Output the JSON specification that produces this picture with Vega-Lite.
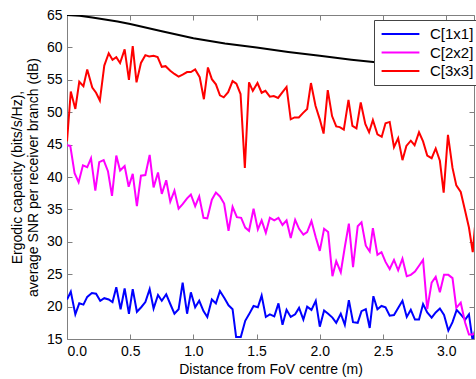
{
  "$schema": "https://vega.github.io/schema/vega-lite/v6.json",
  "width": 407,
  "height": 324,
  "autosize": {"type": "none"},
  "padding": {"left": 67, "top": 15, "right": 2, "bottom": 40},
  "background": "white",
  "config": {
    "font": "Liberation Sans",
    "view": {"stroke": null},
    "axis": {
      "domainColor": "#808080",
      "tickColor": "#808080",
      "labelColor": "black",
      "titleColor": "black",
      "labelFont": "Liberation Sans",
      "titleFont": "Liberation Sans",
      "labelFontSize": 14,
      "titleFontSize": 14,
      "titleFontWeight": "normal",
      "grid": false,
      "tickSize": -5
    }
  },
  "datasets": {
    "snr": [
      {"d": 0, "v": 65.0}, {"d": 0.1, "v": 64.9}, {"d": 0.2, "v": 64.6}, {"d": 0.3, "v": 64.3},
      {"d": 0.4, "v": 64.0}, {"d": 0.5, "v": 63.6}, {"d": 0.75, "v": 62.5}, {"d": 1.0, "v": 61.4},
      {"d": 1.25, "v": 60.6}, {"d": 1.5, "v": 60.0}, {"d": 1.75, "v": 59.3}, {"d": 2.0, "v": 58.7},
      {"d": 2.25, "v": 58.1}, {"d": 2.5, "v": 57.6}, {"d": 2.75, "v": 57.1}, {"d": 3.0, "v": 56.6},
      {"d": 3.22, "v": 56.2}
    ],
    "cap": [
      {"d": 0, "c": 21.1, "s": "C[1x1]"}, {"d": 0.03, "c": 22.3, "s": "C[1x1]"}, {"d": 0.066, "c": 18.8, "s": "C[1x1]"},
      {"d": 0.097, "c": 20.5, "s": "C[1x1]"}, {"d": 0.13, "c": 20.3, "s": "C[1x1]"}, {"d": 0.16, "c": 21.5, "s": "C[1x1]"},
      {"d": 0.197, "c": 22.1, "s": "C[1x1]"}, {"d": 0.23, "c": 22.0, "s": "C[1x1]"}, {"d": 0.263, "c": 20.9, "s": "C[1x1]"},
      {"d": 0.295, "c": 21.3, "s": "C[1x1]"}, {"d": 0.33, "c": 21.1, "s": "C[1x1]"}, {"d": 0.36, "c": 20.7, "s": "C[1x1]"},
      {"d": 0.39, "c": 23.0, "s": "C[1x1]"}, {"d": 0.424, "c": 19.6, "s": "C[1x1]"}, {"d": 0.456, "c": 22.8, "s": "C[1x1]"},
      {"d": 0.49, "c": 18.9, "s": "C[1x1]"}, {"d": 0.52, "c": 22.7, "s": "C[1x1]"}, {"d": 0.553, "c": 19.2, "s": "C[1x1]"},
      {"d": 0.587, "c": 19.9, "s": "C[1x1]"}, {"d": 0.62, "c": 20.7, "s": "C[1x1]"}, {"d": 0.654, "c": 22.7, "s": "C[1x1]"},
      {"d": 0.685, "c": 19.7, "s": "C[1x1]"}, {"d": 0.72, "c": 21.8, "s": "C[1x1]"}, {"d": 0.75, "c": 20.9, "s": "C[1x1]"},
      {"d": 0.785, "c": 21.9, "s": "C[1x1]"}, {"d": 0.817, "c": 20.4, "s": "C[1x1]"}, {"d": 0.85, "c": 18.9, "s": "C[1x1]"},
      {"d": 0.883, "c": 19.6, "s": "C[1x1]"}, {"d": 0.915, "c": 23.7, "s": "C[1x1]"}, {"d": 0.95, "c": 18.9, "s": "C[1x1]"},
      {"d": 0.98, "c": 22.2, "s": "C[1x1]"}, {"d": 1.014, "c": 19.9, "s": "C[1x1]"}, {"d": 1.046, "c": 20.9, "s": "C[1x1]"},
      {"d": 1.08, "c": 19.3, "s": "C[1x1]"}, {"d": 1.11, "c": 18.4, "s": "C[1x1]"}, {"d": 1.146, "c": 21.1, "s": "C[1x1]"},
      {"d": 1.178, "c": 20.5, "s": "C[1x1]"}, {"d": 1.21, "c": 22.4, "s": "C[1x1]"}, {"d": 1.246, "c": 21.3, "s": "C[1x1]"},
      {"d": 1.278, "c": 20.2, "s": "C[1x1]"}, {"d": 1.31, "c": 19.6, "s": "C[1x1]"}, {"d": 1.338, "c": 15.3, "s": "C[1x1]"},
      {"d": 1.375, "c": 15.3, "s": "C[1x1]"}, {"d": 1.41, "c": 17.8, "s": "C[1x1]"}, {"d": 1.44, "c": 18.8, "s": "C[1x1]"},
      {"d": 1.476, "c": 20.1, "s": "C[1x1]"}, {"d": 1.51, "c": 19.9, "s": "C[1x1]"}, {"d": 1.54, "c": 21.7, "s": "C[1x1]"},
      {"d": 1.573, "c": 18.4, "s": "C[1x1]"}, {"d": 1.605, "c": 18.8, "s": "C[1x1]"}, {"d": 1.64, "c": 18.5, "s": "C[1x1]"},
      {"d": 1.673, "c": 20.5, "s": "C[1x1]"}, {"d": 1.705, "c": 17.2, "s": "C[1x1]"}, {"d": 1.737, "c": 19.5, "s": "C[1x1]"},
      {"d": 1.77, "c": 18.4, "s": "C[1x1]"}, {"d": 1.805, "c": 18.8, "s": "C[1x1]"}, {"d": 1.836, "c": 19.8, "s": "C[1x1]"},
      {"d": 1.87, "c": 18.0, "s": "C[1x1]"}, {"d": 1.9, "c": 20.0, "s": "C[1x1]"}, {"d": 1.934, "c": 19.5, "s": "C[1x1]"},
      {"d": 1.968, "c": 20.9, "s": "C[1x1]"}, {"d": 2.0, "c": 16.9, "s": "C[1x1]"}, {"d": 2.034, "c": 19.4, "s": "C[1x1]"},
      {"d": 2.066, "c": 18.9, "s": "C[1x1]"}, {"d": 2.1, "c": 18.3, "s": "C[1x1]"}, {"d": 2.13, "c": 17.5, "s": "C[1x1]"},
      {"d": 2.166, "c": 18.9, "s": "C[1x1]"}, {"d": 2.198, "c": 17.2, "s": "C[1x1]"}, {"d": 2.23, "c": 21.0, "s": "C[1x1]"},
      {"d": 2.263, "c": 17.6, "s": "C[1x1]"}, {"d": 2.3, "c": 17.5, "s": "C[1x1]"}, {"d": 2.33, "c": 19.3, "s": "C[1x1]"},
      {"d": 2.364, "c": 19.6, "s": "C[1x1]"}, {"d": 2.395, "c": 16.7, "s": "C[1x1]"}, {"d": 2.424, "c": 21.6, "s": "C[1x1]"},
      {"d": 2.456, "c": 19.6, "s": "C[1x1]"}, {"d": 2.488, "c": 20.1, "s": "C[1x1]"}, {"d": 2.52, "c": 19.9, "s": "C[1x1]"},
      {"d": 2.553, "c": 18.6, "s": "C[1x1]"}, {"d": 2.587, "c": 18.7, "s": "C[1x1]"}, {"d": 2.62, "c": 19.8, "s": "C[1x1]"},
      {"d": 2.654, "c": 20.9, "s": "C[1x1]"}, {"d": 2.688, "c": 18.4, "s": "C[1x1]"}, {"d": 2.72, "c": 19.5, "s": "C[1x1]"},
      {"d": 2.753, "c": 18.0, "s": "C[1x1]"}, {"d": 2.785, "c": 18.0, "s": "C[1x1]"}, {"d": 2.817, "c": 20.4, "s": "C[1x1]"},
      {"d": 2.85, "c": 19.1, "s": "C[1x1]"}, {"d": 2.885, "c": 18.3, "s": "C[1x1]"}, {"d": 2.917, "c": 19.1, "s": "C[1x1]"},
      {"d": 2.95, "c": 19.7, "s": "C[1x1]"}, {"d": 2.983, "c": 18.7, "s": "C[1x1]"}, {"d": 3.017, "c": 16.3, "s": "C[1x1]"},
      {"d": 3.05, "c": 17.6, "s": "C[1x1]"}, {"d": 3.083, "c": 19.5, "s": "C[1x1]"}, {"d": 3.115, "c": 18.8, "s": "C[1x1]"},
      {"d": 3.15, "c": 18.0, "s": "C[1x1]"}, {"d": 3.18, "c": 18.8, "s": "C[1x1]"}, {"d": 3.21, "c": 14.6, "s": "C[1x1]"},
      {"d": 3.235, "c": 17.0, "s": "C[1x1]"},

      {"d": 0, "c": 44.9, "s": "C[2x2]"}, {"d": 0.026, "c": 44.8, "s": "C[2x2]"}, {"d": 0.06, "c": 40.6, "s": "C[2x2]"},
      {"d": 0.092, "c": 39.2, "s": "C[2x2]"}, {"d": 0.126, "c": 41.8, "s": "C[2x2]"}, {"d": 0.16, "c": 41.5, "s": "C[2x2]"},
      {"d": 0.19, "c": 42.9, "s": "C[2x2]"}, {"d": 0.224, "c": 37.9, "s": "C[2x2]"}, {"d": 0.255, "c": 42.3, "s": "C[2x2]"},
      {"d": 0.29, "c": 42.6, "s": "C[2x2]"}, {"d": 0.324, "c": 40.9, "s": "C[2x2]"}, {"d": 0.356, "c": 37.1, "s": "C[2x2]"},
      {"d": 0.39, "c": 43.3, "s": "C[2x2]"}, {"d": 0.42, "c": 41.0, "s": "C[2x2]"}, {"d": 0.456, "c": 41.7, "s": "C[2x2]"},
      {"d": 0.488, "c": 38.5, "s": "C[2x2]"}, {"d": 0.52, "c": 40.5, "s": "C[2x2]"}, {"d": 0.553, "c": 35.5, "s": "C[2x2]"},
      {"d": 0.585, "c": 40.2, "s": "C[2x2]"}, {"d": 0.62, "c": 40.3, "s": "C[2x2]"}, {"d": 0.654, "c": 43.4, "s": "C[2x2]"},
      {"d": 0.685, "c": 38.4, "s": "C[2x2]"}, {"d": 0.72, "c": 40.7, "s": "C[2x2]"}, {"d": 0.75, "c": 37.4, "s": "C[2x2]"},
      {"d": 0.785, "c": 39.5, "s": "C[2x2]"}, {"d": 0.817, "c": 36.2, "s": "C[2x2]"}, {"d": 0.85, "c": 37.9, "s": "C[2x2]"},
      {"d": 0.883, "c": 35.1, "s": "C[2x2]"}, {"d": 0.915, "c": 35.8, "s": "C[2x2]"}, {"d": 0.95, "c": 36.7, "s": "C[2x2]"},
      {"d": 0.98, "c": 37.3, "s": "C[2x2]"}, {"d": 1.014, "c": 35.5, "s": "C[2x2]"}, {"d": 1.046, "c": 37.0, "s": "C[2x2]"},
      {"d": 1.08, "c": 33.7, "s": "C[2x2]"}, {"d": 1.11, "c": 33.6, "s": "C[2x2]"}, {"d": 1.146, "c": 36.5, "s": "C[2x2]"},
      {"d": 1.178, "c": 37.6, "s": "C[2x2]"}, {"d": 1.21, "c": 37.0, "s": "C[2x2]"}, {"d": 1.243, "c": 35.9, "s": "C[2x2]"},
      {"d": 1.278, "c": 31.7, "s": "C[2x2]"}, {"d": 1.31, "c": 35.4, "s": "C[2x2]"}, {"d": 1.344, "c": 33.8, "s": "C[2x2]"},
      {"d": 1.378, "c": 33.7, "s": "C[2x2]"}, {"d": 1.41, "c": 32.2, "s": "C[2x2]"}, {"d": 1.44, "c": 31.7, "s": "C[2x2]"},
      {"d": 1.476, "c": 35.1, "s": "C[2x2]"}, {"d": 1.51, "c": 31.9, "s": "C[2x2]"}, {"d": 1.54, "c": 33.3, "s": "C[2x2]"},
      {"d": 1.573, "c": 31.4, "s": "C[2x2]"}, {"d": 1.605, "c": 33.7, "s": "C[2x2]"}, {"d": 1.64, "c": 33.3, "s": "C[2x2]"},
      {"d": 1.673, "c": 33.7, "s": "C[2x2]"}, {"d": 1.705, "c": 32.6, "s": "C[2x2]"}, {"d": 1.737, "c": 33.3, "s": "C[2x2]"},
      {"d": 1.77, "c": 30.6, "s": "C[2x2]"}, {"d": 1.805, "c": 33.4, "s": "C[2x2]"}, {"d": 1.836, "c": 32.0, "s": "C[2x2]"},
      {"d": 1.87, "c": 31.1, "s": "C[2x2]"}, {"d": 1.9, "c": 31.5, "s": "C[2x2]"}, {"d": 1.934, "c": 33.2, "s": "C[2x2]"},
      {"d": 1.968, "c": 30.7, "s": "C[2x2]"}, {"d": 2.0, "c": 28.6, "s": "C[2x2]"}, {"d": 2.034, "c": 32.0, "s": "C[2x2]"},
      {"d": 2.066, "c": 31.5, "s": "C[2x2]"}, {"d": 2.1, "c": 24.7, "s": "C[2x2]"}, {"d": 2.13, "c": 27.0, "s": "C[2x2]"},
      {"d": 2.166, "c": 25.3, "s": "C[2x2]"}, {"d": 2.198, "c": 29.2, "s": "C[2x2]"}, {"d": 2.23, "c": 32.8, "s": "C[2x2]"},
      {"d": 2.263, "c": 26.1, "s": "C[2x2]"}, {"d": 2.3, "c": 32.4, "s": "C[2x2]"}, {"d": 2.33, "c": 33.0, "s": "C[2x2]"},
      {"d": 2.364, "c": 29.4, "s": "C[2x2]"}, {"d": 2.395, "c": 28.5, "s": "C[2x2]"}, {"d": 2.42, "c": 32.1, "s": "C[2x2]"},
      {"d": 2.456, "c": 28.0, "s": "C[2x2]"}, {"d": 2.488, "c": 28.4, "s": "C[2x2]"}, {"d": 2.52, "c": 26.9, "s": "C[2x2]"},
      {"d": 2.553, "c": 25.8, "s": "C[2x2]"}, {"d": 2.587, "c": 27.2, "s": "C[2x2]"}, {"d": 2.62, "c": 25.6, "s": "C[2x2]"},
      {"d": 2.654, "c": 27.4, "s": "C[2x2]"}, {"d": 2.688, "c": 24.7, "s": "C[2x2]"}, {"d": 2.72, "c": 24.9, "s": "C[2x2]"},
      {"d": 2.753, "c": 25.4, "s": "C[2x2]"}, {"d": 2.785, "c": 26.3, "s": "C[2x2]"}, {"d": 2.817, "c": 27.2, "s": "C[2x2]"},
      {"d": 2.85, "c": 19.6, "s": "C[2x2]"}, {"d": 2.885, "c": 23.7, "s": "C[2x2]"}, {"d": 2.917, "c": 24.6, "s": "C[2x2]"},
      {"d": 2.95, "c": 22.2, "s": "C[2x2]"}, {"d": 2.983, "c": 24.9, "s": "C[2x2]"}, {"d": 3.017, "c": 24.9, "s": "C[2x2]"},
      {"d": 3.05, "c": 24.4, "s": "C[2x2]"}, {"d": 3.08, "c": 19.8, "s": "C[2x2]"}, {"d": 3.115, "c": 20.6, "s": "C[2x2]"},
      {"d": 3.15, "c": 17.5, "s": "C[2x2]"}, {"d": 3.18, "c": 15.7, "s": "C[2x2]"}, {"d": 3.21, "c": 15.7, "s": "C[2x2]"},
      {"d": 3.235, "c": 16.0, "s": "C[2x2]"},

      {"d": 0, "c": 45.5, "s": "C[3x3]"}, {"d": 0.03, "c": 53.2, "s": "C[3x3]"}, {"d": 0.066, "c": 50.5, "s": "C[3x3]"},
      {"d": 0.097, "c": 54.7, "s": "C[3x3]"}, {"d": 0.13, "c": 54.0, "s": "C[3x3]"}, {"d": 0.16, "c": 56.6, "s": "C[3x3]"},
      {"d": 0.2, "c": 53.8, "s": "C[3x3]"}, {"d": 0.23, "c": 53.0, "s": "C[3x3]"}, {"d": 0.26, "c": 51.8, "s": "C[3x3]"},
      {"d": 0.295, "c": 57.2, "s": "C[3x3]"}, {"d": 0.33, "c": 59.1, "s": "C[3x3]"}, {"d": 0.36, "c": 58.1, "s": "C[3x3]"},
      {"d": 0.39, "c": 58.5, "s": "C[3x3]"}, {"d": 0.42, "c": 57.6, "s": "C[3x3]"}, {"d": 0.456, "c": 59.7, "s": "C[3x3]"},
      {"d": 0.49, "c": 55.0, "s": "C[3x3]"}, {"d": 0.52, "c": 60.2, "s": "C[3x3]"}, {"d": 0.55, "c": 54.6, "s": "C[3x3]"},
      {"d": 0.585, "c": 57.6, "s": "C[3x3]"}, {"d": 0.62, "c": 58.8, "s": "C[3x3]"}, {"d": 0.65, "c": 58.6, "s": "C[3x3]"},
      {"d": 0.685, "c": 58.7, "s": "C[3x3]"}, {"d": 0.717, "c": 58.5, "s": "C[3x3]"}, {"d": 0.75, "c": 57.0, "s": "C[3x3]"},
      {"d": 0.78, "c": 57.1, "s": "C[3x3]"}, {"d": 0.817, "c": 56.4, "s": "C[3x3]"}, {"d": 0.85, "c": 55.9, "s": "C[3x3]"},
      {"d": 0.883, "c": 55.5, "s": "C[3x3]"}, {"d": 0.915, "c": 55.8, "s": "C[3x3]"}, {"d": 0.95, "c": 56.2, "s": "C[3x3]"},
      {"d": 0.98, "c": 56.2, "s": "C[3x3]"}, {"d": 1.014, "c": 56.6, "s": "C[3x3]"}, {"d": 1.05, "c": 55.4, "s": "C[3x3]"},
      {"d": 1.083, "c": 52.0, "s": "C[3x3]"}, {"d": 1.115, "c": 56.9, "s": "C[3x3]"}, {"d": 1.146, "c": 55.1, "s": "C[3x3]"},
      {"d": 1.178, "c": 54.3, "s": "C[3x3]"}, {"d": 1.21, "c": 52.6, "s": "C[3x3]"}, {"d": 1.24, "c": 52.3, "s": "C[3x3]"},
      {"d": 1.275, "c": 53.1, "s": "C[3x3]"}, {"d": 1.31, "c": 54.8, "s": "C[3x3]"}, {"d": 1.34, "c": 54.4, "s": "C[3x3]"},
      {"d": 1.373, "c": 52.8, "s": "C[3x3]"}, {"d": 1.407, "c": 41.4, "s": "C[3x3]"}, {"d": 1.44, "c": 54.6, "s": "C[3x3]"},
      {"d": 1.47, "c": 53.3, "s": "C[3x3]"}, {"d": 1.507, "c": 54.5, "s": "C[3x3]"}, {"d": 1.54, "c": 53.0, "s": "C[3x3]"},
      {"d": 1.57, "c": 53.3, "s": "C[3x3]"}, {"d": 1.605, "c": 52.4, "s": "C[3x3]"}, {"d": 1.636, "c": 52.5, "s": "C[3x3]"},
      {"d": 1.67, "c": 52.2, "s": "C[3x3]"}, {"d": 1.705, "c": 53.1, "s": "C[3x3]"}, {"d": 1.737, "c": 53.9, "s": "C[3x3]"},
      {"d": 1.77, "c": 48.9, "s": "C[3x3]"}, {"d": 1.8, "c": 49.2, "s": "C[3x3]"}, {"d": 1.834, "c": 49.2, "s": "C[3x3]"},
      {"d": 1.868, "c": 49.9, "s": "C[3x3]"}, {"d": 1.9, "c": 50.5, "s": "C[3x3]"}, {"d": 1.93, "c": 54.5, "s": "C[3x3]"},
      {"d": 1.966, "c": 51.0, "s": "C[3x3]"}, {"d": 2.0, "c": 48.9, "s": "C[3x3]"}, {"d": 2.03, "c": 46.7, "s": "C[3x3]"},
      {"d": 2.063, "c": 53.4, "s": "C[3x3]"}, {"d": 2.097, "c": 49.4, "s": "C[3x3]"}, {"d": 2.13, "c": 47.8, "s": "C[3x3]"},
      {"d": 2.158, "c": 47.7, "s": "C[3x3]"}, {"d": 2.19, "c": 47.3, "s": "C[3x3]"}, {"d": 2.227, "c": 51.9, "s": "C[3x3]"},
      {"d": 2.258, "c": 47.9, "s": "C[3x3]"}, {"d": 2.29, "c": 47.5, "s": "C[3x3]"}, {"d": 2.324, "c": 51.5, "s": "C[3x3]"},
      {"d": 2.36, "c": 48.2, "s": "C[3x3]"}, {"d": 2.39, "c": 46.9, "s": "C[3x3]"}, {"d": 2.42, "c": 48.8, "s": "C[3x3]"},
      {"d": 2.456, "c": 46.6, "s": "C[3x3]"}, {"d": 2.49, "c": 46.2, "s": "C[3x3]"}, {"d": 2.52, "c": 48.3, "s": "C[3x3]"},
      {"d": 2.553, "c": 48.5, "s": "C[3x3]"}, {"d": 2.587, "c": 44.6, "s": "C[3x3]"}, {"d": 2.62, "c": 46.0, "s": "C[3x3]"},
      {"d": 2.654, "c": 42.6, "s": "C[3x3]"}, {"d": 2.685, "c": 44.8, "s": "C[3x3]"}, {"d": 2.72, "c": 45.6, "s": "C[3x3]"},
      {"d": 2.75, "c": 44.9, "s": "C[3x3]"}, {"d": 2.785, "c": 46.9, "s": "C[3x3]"}, {"d": 2.817, "c": 45.5, "s": "C[3x3]"},
      {"d": 2.85, "c": 43.3, "s": "C[3x3]"}, {"d": 2.885, "c": 42.9, "s": "C[3x3]"}, {"d": 2.917, "c": 44.4, "s": "C[3x3]"},
      {"d": 2.95, "c": 42.5, "s": "C[3x3]"}, {"d": 2.98, "c": 37.6, "s": "C[3x3]"}, {"d": 3.014, "c": 46.5, "s": "C[3x3]"},
      {"d": 3.05, "c": 41.4, "s": "C[3x3]"}, {"d": 3.08, "c": 38.7, "s": "C[3x3]"}, {"d": 3.115, "c": 37.7, "s": "C[3x3]"},
      {"d": 3.146, "c": 35.1, "s": "C[3x3]"}, {"d": 3.18, "c": 32.2, "s": "C[3x3]"}, {"d": 3.21, "c": 28.4, "s": "C[3x3]"},
      {"d": 3.235, "c": 34.0, "s": "C[3x3]"}
    ]
  },
  "layer": [
    {
      "data": {"name": "snr"},
      "mark": {"type": "line", "color": "black", "strokeWidth": 2, "clip": true},
      "encoding": {
        "x": {"field": "d", "type": "quantitative", "scale": {"domain": [0, 3.22], "nice": false},
              "axis": {"orient": "top", "labels": false, "title": null, "values": [0, 0.5, 1, 1.5, 2, 2.5, 3]}},
        "y": {"field": "v", "type": "quantitative", "scale": {"domain": [15, 65], "nice": false, "zero": false},
              "axis": {"orient": "right", "labels": false, "title": null, "values": [15, 20, 25, 30, 35, 40, 45, 50, 55, 60, 65]}}
      }
    },
    {
      "data": {"name": "cap"},
      "mark": {"type": "line", "strokeWidth": 2, "clip": true},
      "encoding": {
        "x": {"field": "d", "type": "quantitative",
              "axis": {"orient": "bottom", "title": "Distance from FoV centre (m)", "values": [0, 0.5, 1, 1.5, 2, 2.5, 3], "labelPadding": 10, "titlePadding": 4}},
        "y": {"field": "c", "type": "quantitative",
              "axis": {"orient": "left", "title": ["Ergodic capacity (bits/s/Hz),", "average SNR per receiver branch (dB)"], "values": [15, 20, 25, 30, 35, 40, 45, 50, 55, 60, 65], "labelPadding": 10, "titlePadding": 6, "titleLineHeight": 16}},
        "color": {"field": "s", "type": "nominal",
                  "scale": {"domain": ["C[1x1]", "C[2x2]", "C[3x3]"], "range": ["#0000ff", "#ff00ff", "#ff0000"]},
                  "legend": {"title": null, "orient": "none", "legendX": 307, "legendY": 5,
                             "symbolType": "M-2.7,0H2.7", "symbolSize": 196, "symbolStrokeWidth": 2,
                             "symbolOffset": 12.5,
                             "labelFontSize": 15, "labelFont": "Liberation Sans", "labelColor": "black",
                             "labelOffset": 21.5, "rowPadding": 2.5, "padding": 6,
                             "strokeColor": "#444", "fillColor": "white"}}
      }
    }
  ],
  "resolve": {"axis": {"x": "independent", "y": "independent"}}
}
